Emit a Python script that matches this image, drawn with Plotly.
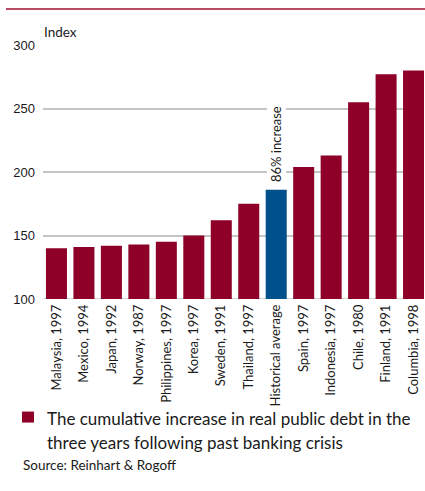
import plotly.graph_objects as go

categories = ["Malaysia, 1997", "Mexico, 1994", "Japan, 1992", "Norway, 1987",
              "Philippines, 1997", "Korea, 1997", "Sweden, 1991", "Thailand, 1997",
              "Historical average", "Spain, 1997", "Indonesia, 1997", "Chile, 1980",
              "Finland, 1991", "Columbia, 1998"]
values = [140, 141, 142, 143, 145, 150, 162, 175, 186, 204, 213, 255, 277, 280]
y_ticks = [100, 150, 200, 250, 300]

RED = "#8E0028"
BLUE = "#00508C"
colors = [BLUE if c == "Historical average" else RED for c in categories]

fig = go.Figure()
fig.add_trace(go.Bar(x=categories, y=values, marker=dict(color=colors, line=dict(width=0)),
                     showlegend=False, hoverinfo="skip"))

W, H = 425, 491
PH = 254.3  # plot height px
PW = 381
def py(pix):  # pixel y -> paper y
    return 1 - (pix - 45) / PH
def px(pix):
    return (pix - 43) / PW

fig.update_layout(
    width=W, height=H,
    margin=dict(l=43, r=1, t=45, b=192),
    paper_bgcolor="white", plot_bgcolor="white",
    bargap=0.235,
    font=dict(family="Lato", color="#1a1a1a"),
)
fig.update_xaxes(range=[-0.49, 13.38], tickangle=-90, tickfont=dict(size=13, family="Lato", color="#1a1a1a"),
                 showgrid=False, showline=False, ticks="", ticklabelstandoff=2)
fig.update_yaxes(range=[100, 300], tickvals=y_ticks, showgrid=True, gridcolor="#c4c4c4", gridwidth=1.5,
                 tickfont=dict(size=13, family="Liberation Sans", color="#1a1a1a"),
                 ticks="", zeroline=False, ticklabelstandoff=7, showline=False)

# axis baseline at 100
fig.add_shape(type="line", xref="paper", yref="y", x0=0, x1=1, y0=100, y1=100,
              line=dict(color="#c4c4c4", width=1.5), layer="below")

# top rule
fig.add_shape(type="line", xref="paper", yref="paper", x0=px(6), x1=px(430),
              y0=py(9), y1=py(9), line=dict(color="#A0102E", width=1.5))

# Index label
fig.add_annotation(text="Index", xref="paper", yref="paper", x=px(42), y=py(32),
                   xanchor="left", yanchor="middle", showarrow=False,
                   font=dict(size=13.5, family="Lato", color="#1a1a1a"))

# 86% increase label
fig.add_annotation(text="86% increase", x="Historical average", y=values[8], yref="y",
                   xanchor="center", yanchor="bottom", yshift=6, textangle=-90, showarrow=False,
                   bgcolor="white", borderpad=1,
                   font=dict(size=13, family="Lato", color="#1a1a1a"))

# legend
fig.add_shape(type="rect", xref="paper", yref="paper",
              x0=px(22), x1=px(34), y0=py(423), y1=py(412),
              fillcolor=RED, line=dict(width=0))
fig.add_annotation(text="The cumulative increase in real public debt in the",
                   xref="paper", yref="paper", x=px(45), y=py(418.5),
                   xanchor="left", yanchor="middle", align="left", showarrow=False,
                   font=dict(size=17, family="Lato", color="#1a1a1a"))
fig.add_annotation(text="three years following past banking crisis",
                   xref="paper", yref="paper", x=px(45), y=py(442.5),
                   xanchor="left", yanchor="middle", align="left", showarrow=False,
                   font=dict(size=17, family="Lato", color="#1a1a1a"))
fig.add_annotation(text="Source: Reinhart & Rogoff", xref="paper", yref="paper",
                   x=px(21), y=py(465), xanchor="left", yanchor="middle",
                   showarrow=False, font=dict(size=13.5, family="Lato", color="#1a1a1a"))

fig.write_html("out.html")
